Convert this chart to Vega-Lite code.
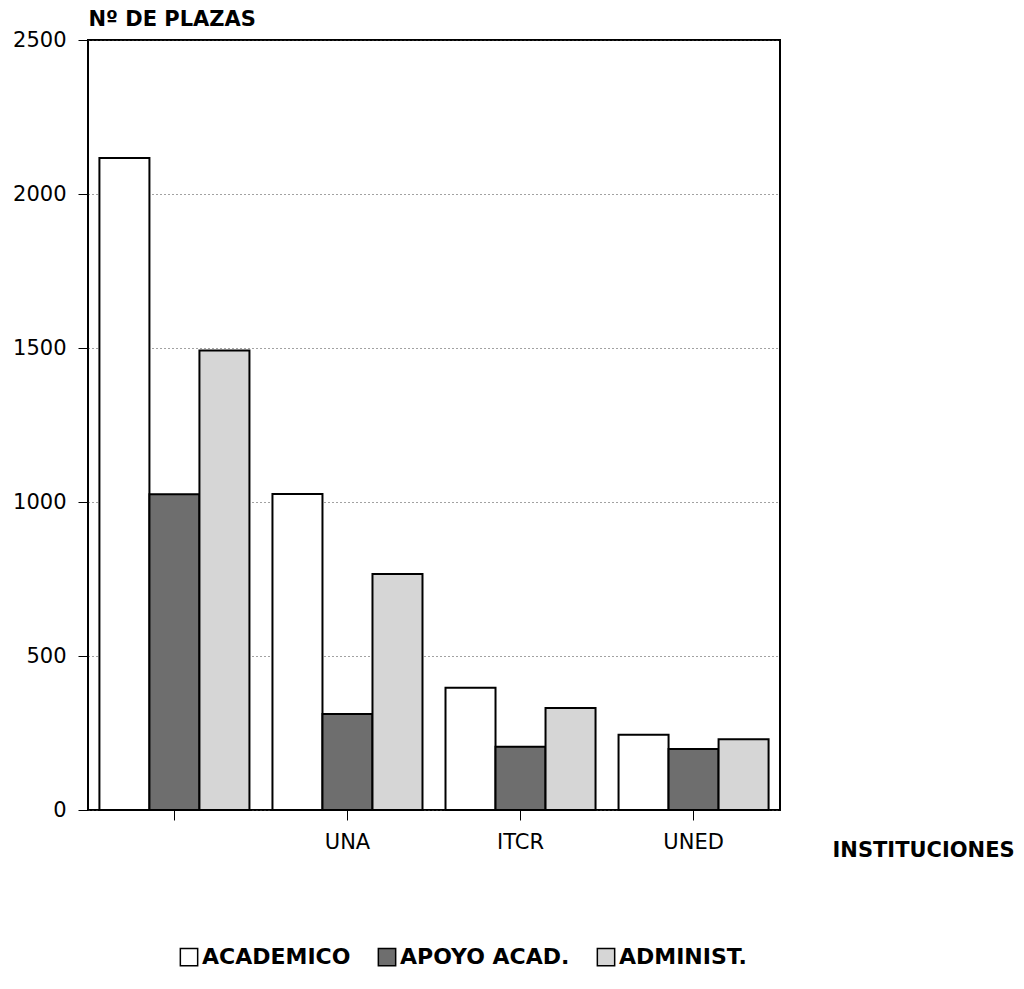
{
  "$schema": "https://vega.github.io/schema/vega-lite/v6.json",
  "width": 692,
  "height": 770,
  "autosize": {"type": "none"},
  "padding": {"left": 88, "top": 40, "right": 244, "bottom": 179},
  "background": "white",
  "config": {
    "font": "DejaVu Sans",
    "view": {"stroke": "black", "strokeWidth": 2},
    "axis": {"labelColor": "black", "titleColor": "black", "tickColor": "black"}
  },
  "data": {
    "values": [
      {"institucion": "UCR", "tipo": "ACADEMICO", "plazas": 2117},
      {"institucion": "UCR", "tipo": "APOYO ACAD.", "plazas": 1025},
      {"institucion": "UCR", "tipo": "ADMINIST.", "plazas": 1492},
      {"institucion": "UNA", "tipo": "ACADEMICO", "plazas": 1026},
      {"institucion": "UNA", "tipo": "APOYO ACAD.", "plazas": 312},
      {"institucion": "UNA", "tipo": "ADMINIST.", "plazas": 766},
      {"institucion": "ITCR", "tipo": "ACADEMICO", "plazas": 397},
      {"institucion": "ITCR", "tipo": "APOYO ACAD.", "plazas": 205},
      {"institucion": "ITCR", "tipo": "ADMINIST.", "plazas": 331},
      {"institucion": "UNED", "tipo": "ACADEMICO", "plazas": 244},
      {"institucion": "UNED", "tipo": "APOYO ACAD.", "plazas": 198},
      {"institucion": "UNED", "tipo": "ADMINIST.", "plazas": 230}
    ]
  },
  "mark": {"type": "bar", "stroke": "black", "strokeWidth": 2},
  "encoding": {
    "x": {
      "field": "institucion",
      "type": "nominal",
      "sort": ["UCR", "UNA", "ITCR", "UNED"],
      "scale": {"paddingInner": 0.133, "paddingOuter": 0.066},
      "axis": {
        "title": "INSTITUCIONES",
        "labelExpr": "datum.value == 'UCR' ? '' : datum.value",
        "labelAngle": 0,
        "labelFontSize": 21,
        "labelPadding": 11,
        "tickSize": 10,
        "tickWidth": 1,
        "domain": false,
        "titleFontSize": 21,
        "titleFontWeight": "bold",
        "titleAlign": "left",
        "titleBaseline": "middle",
        "titleX": 744,
        "titleY": 40
      }
    },
    "xOffset": {"field": "tipo", "type": "nominal", "sort": ["ACADEMICO", "APOYO ACAD.", "ADMINIST."]},
    "y": {
      "field": "plazas",
      "type": "quantitative",
      "scale": {"domain": [0, 2500], "nice": false},
      "axis": {
        "title": "Nº DE PLAZAS",
        "values": [0, 500, 1000, 1500, 2000, 2500],
        "format": "d",
        "labelFontSize": 21,
        "labelPadding": 12,
        "tickSize": 10,
        "tickWidth": 1,
        "domain": false,
        "grid": true,
        "gridColor": "#444",
        "gridDash": [1, 3],
        "gridWidth": 1,
        "titleAngle": 0,
        "titleFontSize": 21,
        "titleFontWeight": "bold",
        "titleAlign": "left",
        "titleBaseline": "middle",
        "titleX": 0,
        "titleY": -21
      }
    },
    "color": {
      "field": "tipo",
      "type": "nominal",
      "sort": ["ACADEMICO", "APOYO ACAD.", "ADMINIST."],
      "scale": {"domain": ["ACADEMICO", "APOYO ACAD.", "ADMINIST."], "range": ["#ffffff", "#6e6e6e", "#d6d6d6"]},
      "legend": {
        "title": null,
        "orient": "none",
        "direction": "horizontal",
        "legendX": 90,
        "legendY": 906,
        "symbolType": "square",
        "symbolSize": 300,
        "symbolStrokeColor": "black",
        "symbolStrokeWidth": 1.5,
        "symbolOpacity": 1,
        "labelFontSize": 22,
        "labelFontWeight": "bold",
        "labelColor": "black",
        "labelLimit": 400,
        "labelOffset": 2,
        "columnPadding": 24
      }
    }
  }
}
